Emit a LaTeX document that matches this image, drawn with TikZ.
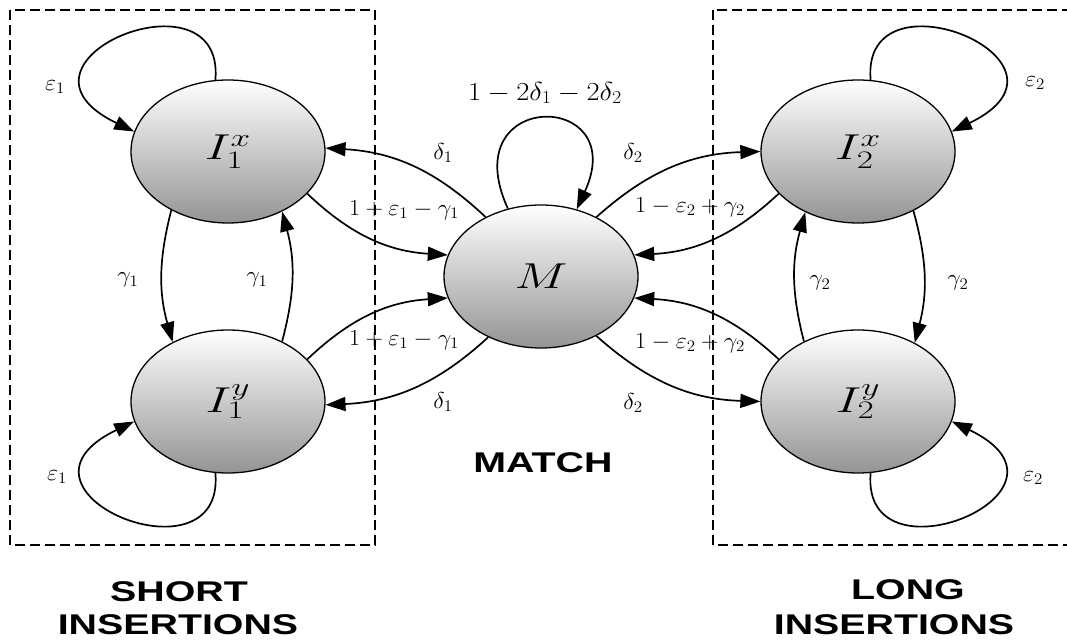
\RequirePackage{fix-cm}
\documentclass[tikz,border=0pt]{standalone}
\usepackage{fontspec}
\usepackage{graphicx}
\usetikzlibrary{arrows.meta,shapes.geometric}
\newfontfamily\capfont{Liberation Sans}
\newcommand{\hstr}[2][1.05]{\scalebox{#1}[1]{#2}}
\begin{document}
\begin{tikzpicture}[x=1pt,y=1pt,
  state/.style={ellipse, draw, line width=1.3pt, minimum width=194pt, minimum height=143pt,
    inner sep=0pt, top color=white, bottom color=black!42,
    font=\fontsize{36}{40}\selectfont},
  edge/.style={line width=1.7pt, -{Triangle[length=20pt,width=14pt]}},
  lab/.style={font=\fontsize{23}{26}\selectfont, inner sep=0pt},
  toplab/.style={font=\fontsize{26}{30}\selectfont, inner sep=0pt},
  captext/.style={font=\capfont\bfseries\fontsize{28.5}{32}\selectfont, inner sep=0pt},
  box/.style={line width=1.3pt, dash pattern=on 10pt off 5pt}]
\clip (0,0) rectangle (1067,642);
\fill[white] (0,0) rectangle (1067,642);
% dashed boxes
\draw[box] (10,632) rectangle (375,97);
\draw[box] (713,632) rectangle (1085,97);
% states
\node[state] (I1x) at (228,490.5) {\hstr[1.4]{$I_1^x$}};
\node[state] (I1y) at (228,240.5) {\hstr[1.4]{$I_1^y$}};
\node[state] (M)   at (541,365.5) {\hstr[1.4]{$M$}};
\node[state] (I2x) at (858,490.5) {\hstr[1.4]{$I_2^x$}};
\node[state] (I2y) at (858,240.5) {\hstr[1.4]{$I_2^y$}};
% self loops
\draw[edge] (I1x.100) .. controls +(10,115) and +(-145,70) .. (I1x.168);
\draw[edge] (I1y.260) .. controls +(10,-115) and +(-145,-70) .. (I1y.192);
\draw[edge] (I2x.80) .. controls +(-10,115) and +(145,70) .. (I2x.12);
\draw[edge] (I2y.280) .. controls +(-10,-115) and +(145,-70) .. (I2y.348);
\draw[edge] (M.116) .. controls +(-55,120) and +(55,120) .. (M.62);
% vertical edges
\draw[edge] (I1x.226) to[bend right=15] (I1y.133);
\draw[edge] (I1y.48) to[bend right=15] (I1x.312);
\draw[edge] (I2y.132) to[bend left=15] (I2x.229);
\draw[edge] (I2x.313) to[bend left=15] (I2y.46);
% edges with M
\draw[edge] (M.133) to[bend right=20] (I1x.2);
\draw[edge] (I1x.332) to[bend right=20] (M.167);
\draw[edge] (M.229) to[bend left=20] (I1y.358);
\draw[edge] (I1y.28) to[bend left=20] (M.193);
\draw[edge] (M.47) to[bend left=20] (I2x.180);
\draw[edge] (I2x.208) to[bend left=20] (M.13);
\draw[edge] (M.313) to[bend right=20] (I2y.180);
\draw[edge] (I2y.152) to[bend right=20] (M.347);
% labels
\node[toplab] (lm) at (545,549) {\hstr[1.1]{$1-2\delta_1-2\delta_2$}};
\node[lab] (la) at (443,489) {\hstr{$\delta_1$}};
\node[lab] (lb) at (404,432) {\hstr{$1+\varepsilon_1-\gamma_1$}};
\node[lab] (lc) at (404,302) {\hstr{$1+\varepsilon_1-\gamma_1$}};
\node[lab] (ld) at (443,240) {\hstr{$\delta_1$}};
\node[lab] (le) at (633,489) {\hstr{$\delta_2$}};
\node[lab] (lf) at (690,435) {\hstr{$1-\varepsilon_2+\gamma_2$}};
\node[lab] (lg) at (690,299) {\hstr{$1-\varepsilon_2+\gamma_2$}};
\node[lab] (lh) at (633,239) {\hstr{$\delta_2$}};
\node[lab] (li) at (128,362) {\hstr{$\gamma_1$}};
\node[lab] (lj) at (257,362) {\hstr{$\gamma_1$}};
\node[lab] (lk) at (820,359) {\hstr{$\gamma_2$}};
\node[lab] (ll) at (958,359) {\hstr{$\gamma_2$}};
\node[lab] (ln) at (55,555) {\hstr{$\varepsilon_1$}};
\node[lab] (lo) at (57,165) {\hstr{$\varepsilon_1$}};
\node[lab] (lp) at (1035,559) {\hstr{$\varepsilon_2$}};
\node[lab] (lq) at (1033,164) {\hstr{$\varepsilon_2$}};
% captions
\node[captext] (c1) at (179,50) {\hstr[1.38]{SHORT}};
\node[captext] (c2) at (178,17) {\hstr[1.38]{INSERTIONS}};
\node[captext] (c3) at (543,179) {\hstr[1.38]{MATCH}};
\node[captext] (c4) at (908,52) {\hstr[1.38]{LONG}};
\node[captext] (c5) at (894,17) {\hstr[1.38]{INSERTIONS}};
\end{tikzpicture}
\end{document}
